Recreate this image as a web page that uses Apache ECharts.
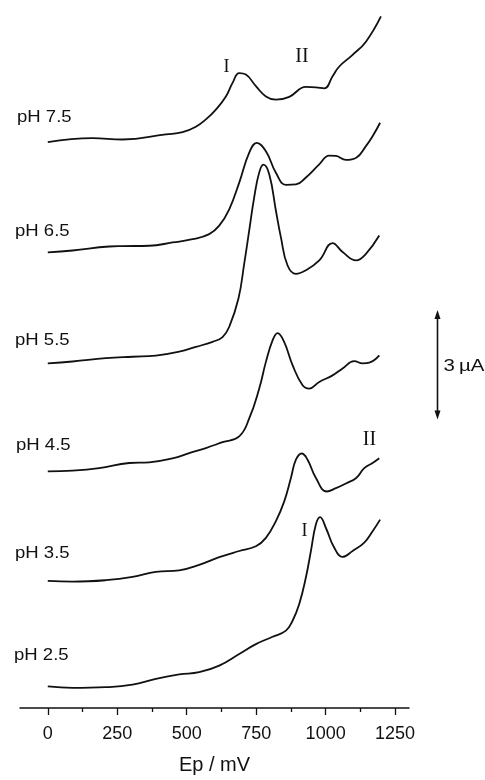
<!DOCTYPE html>
<html>
<head>
<meta charset="utf-8">
<script src="https://cdn.jsdelivr.net/npm/echarts@6/dist/echarts.min.js"></script>
<style>
	html, body { margin: 0; padding: 0; background: #fff; }
	#chart { width: 485px; height: 780px; }
</style>
</head>
<body>
<div id="chart"></div>
<script>
	// curvas de voltametria, [Ep mV, corriente uA] relativas al inicio de cada curva
	var labels= ['pH 7.5', 'pH 6.5', 'pH 5.5', 'pH 4.5', 'pH 3.5', 'pH 2.5'];
	var offsets= [15.50, 12.48, 9.44, 6.48, 3.48, 0.59];
	var ph75= [[0, 0], [161, 0.11], [269, 0.07], [425, 0.21], [485, 0.27], [533, 0.42], [569, 0.62], [605, 0.89], [641, 1.25], [665, 1.62], [689, 1.89], [713, 1.85], [749, 1.53], [785, 1.25], [821, 1.16], [869, 1.24], [929, 1.51], [965, 1.50], [995, 1.47], [1025, 1.80], [1049, 2.07], [1097, 2.39], [1145, 2.75], [1199, 3.44]];
	var ph65= [[0, 0], [89, 0.05], [221, 0.16], [269, 0.17], [365, 0.18], [449, 0.27], [521, 0.36], [581, 0.50], [617, 0.73], [653, 1.18], [689, 1.91], [725, 2.73], [752, 3.00], [785, 2.77], [821, 2.18], [857, 1.85], [893, 1.86], [929, 2.05], [977, 2.41], [1013, 2.65], [1037, 2.64], [1073, 2.53], [1110, 2.59], [1145, 2.91], [1169, 3.18], [1196, 3.55]];
	var ph55= [[0, 0], [89, 0.05], [209, 0.14], [305, 0.18], [389, 0.21], [473, 0.32], [533, 0.45], [593, 0.59], [629, 0.72], [653, 1.00], [686, 1.77], [707, 2.73], [725, 3.64], [743, 4.55], [761, 5.23], [776, 5.44], [797, 5.18], [821, 4.18], [839, 3.45], [863, 2.68], [893, 2.45], [929, 2.55], [977, 2.82], [1025, 3.29], [1061, 3.05], [1110, 2.82], [1145, 3.00], [1193, 3.50]];
	var ph45= [[0, 0], [89, 0.02], [185, 0.09], [293, 0.23], [365, 0.25], [449, 0.36], [509, 0.50], [569, 0.64], [629, 0.80], [689, 0.96], [725, 1.45], [761, 2.27], [785, 3.00], [809, 3.59], [827, 3.79], [851, 3.54], [881, 2.91], [917, 2.36], [941, 2.27], [977, 2.45], [1025, 2.63], [1061, 2.82], [1103, 3.02], [1133, 2.96], [1157, 2.98], [1193, 3.18]];
	var ph35= [[0, 0], [89, -0.02], [209, 0.02], [305, 0.11], [389, 0.25], [473, 0.29], [545, 0.44], [617, 0.65], [689, 0.82], [749, 0.95], [785, 1.18], [821, 1.64], [851, 2.18], [875, 2.82], [893, 3.32], [914, 3.49], [935, 3.32], [965, 2.82], [1004, 2.45], [1037, 2.54], [1073, 2.67], [1110, 2.82], [1139, 3.09], [1169, 3.23], [1193, 3.36]];
	var ph25= [[0, 0], [89, -0.04], [209, -0.02], [305, 0.05], [389, 0.21], [473, 0.33], [545, 0.39], [617, 0.57], [689, 0.89], [749, 1.16], [809, 1.36], [857, 1.53], [881, 1.80], [905, 2.26], [929, 2.99], [947, 3.71], [965, 4.44], [980, 4.64], [1001, 4.34], [1031, 3.80], [1061, 3.55], [1097, 3.71], [1139, 3.94], [1169, 4.25], [1196, 4.57]];
	var curves= [ph75, ph65, ph55, ph45, ph35, ph25];
	var majorTicks= [0, 250, 500, 750, 1000, 1250];
	var minorTicks= [125, 375, 625, 875, 1125];
	var scaleBar= 3; // uA

	var ink= '#111';
	var chart= echarts.init(document.getElementById('chart'), null, {renderer: 'canvas'});

	var series= [];
	for(var i= 0; i< curves.length; i++) {
		series.push({
			type: 'line',
			name: labels[i],
			data: curves[i].map(function(p) { return [p[0], p[1]+ offsets[i]]; }),
			showSymbol: false,
			smooth: 0.45,
			lineStyle: {color: ink, width: 1.8},
			silent: true
		});
	} // for

	chart.setOption({
		animation: false,
		backgroundColor: '#fff',
		grid: {left: 20, right: 76, top: 11, bottom: 69},
		xAxis: [{
			type: 'value', min: -100, max: 1300, position: 'bottom',
			name: 'Ep / mV', nameLocation: 'middle', nameGap: 47,
			nameTextStyle: {fontFamily: 'Liberation Sans', fontSize: 20, color: ink},
			axisLine: {show: true, onZero: false, lineStyle: {color: ink, width: 1.5}},
			axisTick: {show: true, customValues: majorTicks, length: 7, lineStyle: {color: ink, width: 1.3}},
			axisLabel: {customValues: majorTicks, fontFamily: 'Liberation Sans', fontSize: 18, margin: 17, color: ink,
				formatter: function(v) { return String(v); }},
			splitLine: {show: false}
		}, {
			type: 'value', min: -100, max: 1300, position: 'bottom',
			axisLine: {show: false, onZero: false},
			axisTick: {show: true, customValues: minorTicks, length: 4, lineStyle: {color: ink, width: 1.3}},
			axisLabel: {show: false},
			splitLine: {show: false}
		}],
		yAxis: {type: 'value', min: 0, max: 19.09, show: false},
		series: series
	});

	// rotulos de pH, numerales y barra de escala
	var labelX= [17, 15, 15, 16, 15, 14];
	var labelY= [117, 231, 340, 445, 553, 655];
	var graphics= [];
	for(var j= 0; j< labels.length; j++) {
		graphics.push({
			type: 'text', x: labelX[j], y: labelY[j], scaleX: 1.09,
			style: {text: labels[j], fontFamily: 'Liberation Sans', fontSize: 17, fill: ink, verticalAlign: 'middle'}
		});
	} // for
	var romans= [['I', 226.5, 67, 18], ['II', 302, 56.5, 20], ['II', 369.5, 439.5, 20], ['I', 304.5, 531, 18]];
	romans.forEach(function(r) {
		graphics.push({
			type: 'text', x: r[1], y: r[2],
			style: {text: r[0], fontFamily: 'Liberation Serif', fontSize: r[3], fill: ink, align: 'center', verticalAlign: 'middle'}
		});
	});
	var barX= 437.5;
	var barTop= 310;
	var barLen= chart.convertToPixel({yAxisIndex: 0}, 0)- chart.convertToPixel({yAxisIndex: 0}, scaleBar);
	var barBottom= barTop+ barLen;
	graphics.push({type: 'line', shape: {x1: barX, y1: barTop+ 5, x2: barX, y2: barBottom- 5}, style: {stroke: ink, lineWidth: 1.6}});
	graphics.push({type: 'polygon', shape: {points: [[barX, barTop], [barX- 3, barTop+ 9], [barX+ 3, barTop+ 9]]}, style: {fill: ink}});
	graphics.push({type: 'polygon', shape: {points: [[barX, barBottom], [barX- 3, barBottom- 9], [barX+ 3, barBottom- 9]]}, style: {fill: ink}});
	graphics.push({
		type: 'text', x: barX+ 6, y: barTop+ barLen/ 2+ 2, scaleX: 1.2,
		style: {text: '3\u2009\u00b5A', fontFamily: 'Liberation Sans', fontSize: 17, fill: ink, verticalAlign: 'middle'}
	});
	chart.setOption({graphic: graphics});
</script>
</body>
</html>
